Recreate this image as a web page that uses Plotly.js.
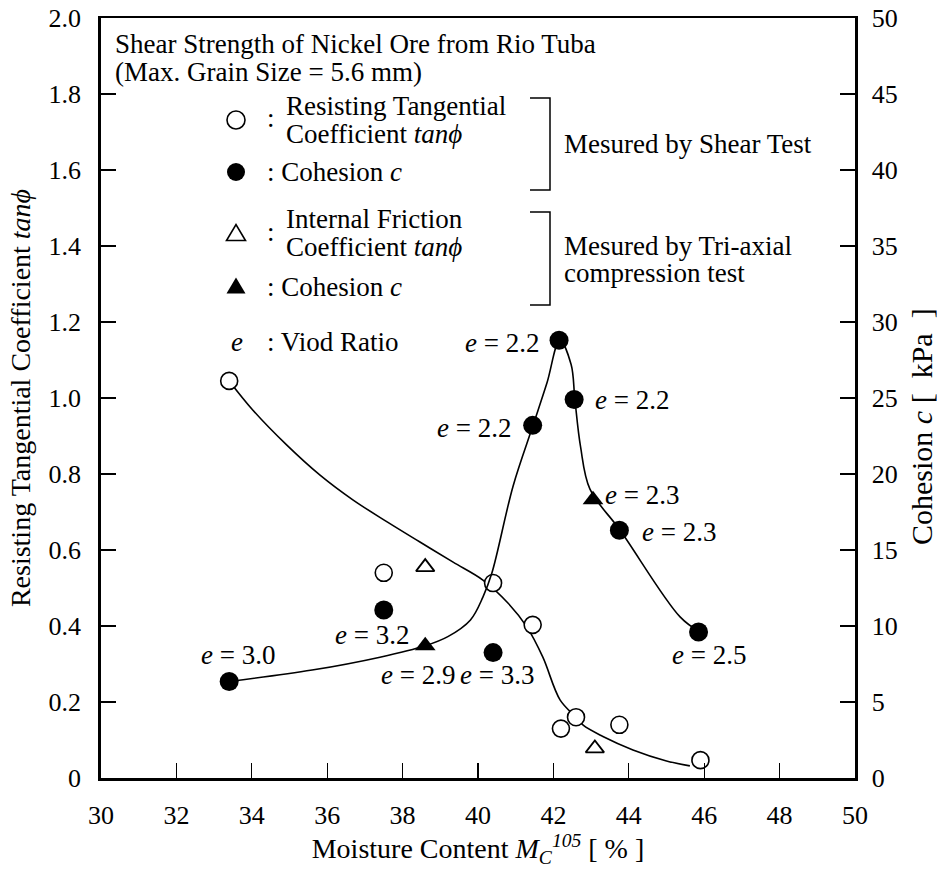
<!DOCTYPE html>
<html><head><meta charset="utf-8">
<script src="https://cdn.plot.ly/plotly-3.0.1.min.js"></script>
<style>html,body{margin:0;padding:0;background:#fff}</style>
</head><body><div id="chart" style="width:937px;height:870px"></div>
<script>
// ---------- data ----------
// Resisting tangential coefficient tan(phi), shear test (open circles)
const shearTanX = [33.4, 37.5, 40.4, 41.45, 42.2, 42.6, 43.75, 45.9];
const shearTanY = [1.045, 0.54, 0.513, 0.403, 0.13, 0.16, 0.14, 0.047];
// Cohesion c [kPa], shear test (filled circles)
const shearCohX = [33.4, 37.5, 40.4, 41.45, 42.15, 42.55, 43.75, 45.85];
const shearCohY = [6.35, 11.05, 8.25, 23.2, 28.8, 24.9, 16.3, 9.6];
// Internal friction coefficient tan(phi), tri-axial (open triangles)
const triTanX = [38.6, 43.1];
const triTanY = [0.555, 0.078];
// Cohesion c [kPa], tri-axial (filled triangles)
const triCohX = [38.6, 43.05];
const triCohY = [8.7, 18.3];
// Hand-drawn trend curve through tan(phi) (knots)
const tanCurveX = [33.4, 34.03, 34.93, 35.81, 36.68, 37.59, 38.46, 39.34, 40.13, 40.8, 41.3, 41.72, 42.18, 42.6, 42.79, 43.3, 44.11, 45.0, 45.62];
const tanCurveY = [1.045, 0.968, 0.876, 0.797, 0.732, 0.674, 0.621, 0.568, 0.521, 0.46, 0.397, 0.318, 0.205, 0.16, 0.139, 0.11, 0.074, 0.045, 0.032];
// Hand-drawn trend curve through cohesion [kPa]
const cohCurveX = [33.4, 35.6, 37.4, 38.6, 39.2, 39.8, 40.13, 40.37, 40.93, 41.46, 41.83, 42.17, 42.47, 42.57, 42.72, 42.97, 43.77, 45.36, 45.89];
const cohCurveY = [6.35, 7.1, 7.95, 8.7, 9.3, 10.4, 11.9, 13.5, 19.2, 23.2, 26.0, 28.8, 27.2, 24.9, 21.8, 19.0, 16.3, 10.6, 9.6];
// Void ratio labels
const voidRatios = ['3.0', '3.2', '2.9', '3.3', '2.2', '2.2', '2.2', '2.3', '2.3', '2.5'];
// Tick labels
const xTickVals = [30, 32, 34, 36, 38, 40, 42, 44, 46, 48, 50];
const xTickText = ['30', '32', '34', '36', '38', '40', '42', '44', '46', '48', '50'];
const yTickVals = [0, 0.2, 0.4, 0.6, 0.8, 1.0, 1.2, 1.4, 1.6, 1.8, 2.0];
const yTickText = ['0', '0.2', '0.4', '0.6', '0.8', '1.0', '1.2', '1.4', '1.6', '1.8', '2.0'];
const y2TickVals = [0, 5, 10, 15, 20, 25, 30, 35, 40, 45, 50];
const y2TickText = ['0', '5', '10', '15', '20', '25', '30', '35', '40', '45', '50'];

// ---------- layout helpers (pixel -> paper) ----------
const ML = 101, MR = 82, MT = 18, MB = 92, W = 937, H = 870;
const PW = W - ML - MR, PH = H - MT - MB;
const P = px => (px - ML) / PW;
const Q = py => (H - MB - py) / PH;
const FONT = 'Liberation Serif';
const TXT = 27;

const traces = [
  {x: tanCurveX, y: tanCurveY, mode: 'lines', line: {shape: 'spline', smoothing: 1, color: '#000', width: 1.6}, hoverinfo: 'skip'},
  {x: cohCurveX, y: cohCurveY, yaxis: 'y2', mode: 'lines', line: {shape: 'spline', smoothing: 1, color: '#000', width: 1.6}, hoverinfo: 'skip'},
  {x: shearTanX, y: shearTanY, mode: 'markers', marker: {symbol: 'circle', size: 17, color: '#fff', line: {color: '#000', width: 1.6}}},
  {x: shearCohX, y: shearCohY, yaxis: 'y2', mode: 'markers', marker: {symbol: 'circle', size: 19, color: '#000', line: {width: 0}}},
  {x: triTanX, y: triTanY, mode: 'markers', marker: {symbol: 'triangle-up', size: 16, color: '#fff', line: {color: '#000', width: 1.8}}},
  {x: triCohX, y: triCohY, yaxis: 'y2', mode: 'markers', marker: {symbol: 'triangle-up', size: 18, color: '#000', line: {width: 0}}}
];

function ann(text, px, py, xanchor, size, angle) {
  return {text: text, xref: 'paper', yref: 'paper', x: P(px), y: Q(py), xanchor: xanchor || 'left', yanchor: 'middle',
          showarrow: false, font: {family: FONT, size: size || TXT, color: '#000'}, align: 'left', textangle: angle || 0};
}

const voidPos = [[238, 655], [372, 635], [418, 675], [497, 675], [502, 343], [474, 428], [632, 400], [642, 495], [679, 532], [709, 655]];
const annotations = [
  ann('Shear Strength of Nickel Ore from Rio Tuba', 113, 44),
  ann('(Max. Grain Size = 5.6 mm)', 113, 72),
  ann(':', 265, 118),
  ann('Resisting Tangential', 284, 106),
  ann('Coefficient <i>tan\u03d5</i>', 284, 134),
  ann(': Cohesion <i>c</i>', 265, 172),
  ann(':', 265, 232),
  ann('Internal Friction', 284, 219),
  ann('Coefficient <i>tan\u03d5</i>', 284, 247),
  ann(': Cohesion <i>c</i>', 265, 287),
  ann('<i>e</i>', 237, 342, 'center'),
  ann(': Viod Ratio', 265, 342),
  ann('Mesured by Shear Test', 562, 144),
  ann('Mesured by Tri-axial', 562, 246),
  ann('compression test', 562, 273),
  // right axis title (placed off-centre as in the reference)
  ann('Cohesion <i>c</i> [\u00a0 kPa \u00a0]', 921, 426, 'center', 30, -90)
];
voidRatios.forEach((v, i) => annotations.push(ann('<i>e</i> = ' + v, voidPos[i][0], voidPos[i][1], 'center')));

function sym(type, px, py, filled) {
  const base = {xref: 'paper', yref: 'paper', xsizemode: 'pixel', ysizemode: 'pixel', xanchor: P(px), yanchor: Q(py),
                line: {color: '#000', width: filled ? 0 : 1.6}, fillcolor: filled ? '#000' : '#fff'};
  if (type === 'circle') return Object.assign(base, {type: 'circle', x0: -9, x1: 9, y0: -9, y1: 9});
  return Object.assign(base, {type: 'path', path: 'M -9.5,-6.5 L 9.5,-6.5 L 0,9.5 Z'});
}
function bracket(top, bottom) {
  return {type: 'path', xref: 'paper', yref: 'paper',
          path: `M ${P(530)},${Q(top)} L ${P(550)},${Q(top)} L ${P(550)},${Q(bottom)} L ${P(530)},${Q(bottom)}`,
          line: {color: '#000', width: 1.5}};
}
const shapes = [
  sym('circle', 236, 120, false),
  sym('circle', 236, 172, true),
  sym('tri', 236, 234, false),
  sym('tri', 236, 287, true),
  bracket(98, 190),
  bracket(212, 305)
];

const axisCommon = {ticks: 'inside', ticklen: 15, tickwidth: 1.3, tickcolor: '#000', showline: true, linecolor: '#000',
                    showgrid: false, zeroline: false, tickfont: {family: FONT, size: 26, color: '#000'}, fixedrange: true};
const layout = {
  width: W, height: H, margin: {l: ML, r: MR, t: MT, b: MB}, paper_bgcolor: '#fff', plot_bgcolor: '#fff',
  showlegend: false, font: {family: FONT, size: TXT, color: '#000'},
  xaxis: Object.assign({}, axisCommon, {range: [30, 50], tickmode: 'array', tickvals: xTickVals, ticktext: xTickText,
        linewidth: 2.5, mirror: true, ticklabelstandoff: 12,
        title: {text: 'Moisture Content <i>M</i><sub><i>C</i></sub><sup><i>105</i></sup> [ % ]', font: {family: FONT, size: 28}, standoff: 5}}),
  yaxis: Object.assign({}, axisCommon, {range: [0, 2], tickmode: 'array', tickvals: yTickVals, ticktext: yTickText,
        linewidth: 2.8, ticklabelstandoff: 12,
        title: {text: 'Resisting Tangential Coefficient <i>tan\u03d5</i>', font: {family: FONT, size: 28}, standoff: 10}}),
  yaxis2: Object.assign({}, axisCommon, {range: [0, 50], overlaying: 'y', side: 'right', tickmode: 'array', tickvals: y2TickVals, ticktext: y2TickText,
        linewidth: 2.5, ticklabelstandoff: 9}),
  annotations: annotations,
  shapes: shapes
};

Plotly.newPlot('chart', traces, layout, {displayModeBar: false, staticPlot: true});
</script>
</body></html>
